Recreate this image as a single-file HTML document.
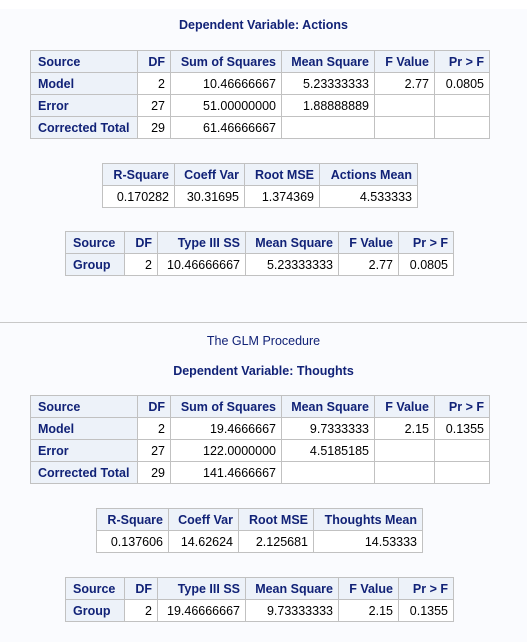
<!DOCTYPE html>
<html><head><meta charset="utf-8"><style>
body{margin:0;width:527px;height:642px;background:#fafbfe;font-family:"Liberation Sans",Arial,sans-serif;font-size:12px;position:relative;overflow:hidden}
.topw{position:absolute;left:0;top:0;width:527px;height:9px;background:#fff}
.sep{position:absolute;left:0;top:322px;width:527px;height:1px;background:#c8c8c8}
.t{position:absolute;left:0;width:527px;text-align:center;color:#112277;font-weight:bold;font-size:12.5px}
table{position:absolute;border-collapse:collapse;table-layout:fixed;background:#fff}
td,th{border:1px solid #c1c1c1;height:21px;padding:0 5px;white-space:nowrap;overflow:hidden;font-size:12.5px}
th{background:#edf2f9;color:#112277;font-weight:bold;text-align:left;padding-left:7px}
th.r{text-align:right;padding-left:3px}
td{text-align:right;color:#000}
</style></head><body>
<div class="topw"></div>
<div class="t" style="top:18px">Dependent Variable: Actions</div>

<table style="left:30px;top:50px;width:459px">
<colgroup><col style="width:107px"><col style="width:33px"><col style="width:111px"><col style="width:93px"><col style="width:60px"><col style="width:55px"></colgroup>
<tr><th>Source</th><th class="r">DF</th><th class="r">Sum of Squares</th><th class="r">Mean Square</th><th class="r">F Value</th><th class="r">Pr &gt; F</th></tr>
<tr><th>Model</th><td>2</td><td>10.46666667</td><td>5.23333333</td><td>2.77</td><td>0.0805</td></tr>
<tr><th>Error</th><td>27</td><td>51.00000000</td><td>1.88888889</td><td></td><td></td></tr>
<tr><th>Corrected Total</th><td>29</td><td>61.46666667</td><td></td><td></td><td></td></tr>
</table>

<table style="left:102px;top:163px;width:315px">
<colgroup><col style="width:72px"><col style="width:70px"><col style="width:75px"><col style="width:98px"></colgroup>
<tr><th class="r">R-Square</th><th class="r">Coeff Var</th><th class="r">Root MSE</th><th class="r">Actions Mean</th></tr>
<tr><td>0.170282</td><td>30.31695</td><td>1.374369</td><td>4.533333</td></tr>
</table>

<table style="left:65px;top:231px;width:388px">
<colgroup><col style="width:59px"><col style="width:33px"><col style="width:88px"><col style="width:93px"><col style="width:60px"><col style="width:55px"></colgroup>
<tr><th>Source</th><th class="r">DF</th><th class="r">Type III SS</th><th class="r">Mean Square</th><th class="r">F Value</th><th class="r">Pr &gt; F</th></tr>
<tr><th>Group</th><td>2</td><td>10.46666667</td><td>5.23333333</td><td>2.77</td><td>0.0805</td></tr>
</table>

<div class="sep"></div>
<div class="t" style="top:334px;font-weight:normal">The GLM Procedure</div>
<div class="t" style="top:364px">Dependent Variable: Thoughts</div>

<table style="left:30px;top:395px;width:459px">
<colgroup><col style="width:107px"><col style="width:33px"><col style="width:111px"><col style="width:93px"><col style="width:60px"><col style="width:55px"></colgroup>
<tr><th>Source</th><th class="r">DF</th><th class="r">Sum of Squares</th><th class="r">Mean Square</th><th class="r">F Value</th><th class="r">Pr &gt; F</th></tr>
<tr><th>Model</th><td>2</td><td>19.4666667</td><td>9.7333333</td><td>2.15</td><td>0.1355</td></tr>
<tr><th>Error</th><td>27</td><td>122.0000000</td><td>4.5185185</td><td></td><td></td></tr>
<tr><th>Corrected Total</th><td>29</td><td>141.4666667</td><td></td><td></td><td></td></tr>
</table>

<table style="left:96px;top:508px;width:326px">
<colgroup><col style="width:72px"><col style="width:70px"><col style="width:75px"><col style="width:109px"></colgroup>
<tr><th class="r">R-Square</th><th class="r">Coeff Var</th><th class="r">Root MSE</th><th class="r">Thoughts Mean</th></tr>
<tr><td>0.137606</td><td>14.62624</td><td>2.125681</td><td>14.53333</td></tr>
</table>

<table style="left:65px;top:577px;width:388px">
<colgroup><col style="width:59px"><col style="width:33px"><col style="width:88px"><col style="width:93px"><col style="width:60px"><col style="width:55px"></colgroup>
<tr><th>Source</th><th class="r">DF</th><th class="r">Type III SS</th><th class="r">Mean Square</th><th class="r">F Value</th><th class="r">Pr &gt; F</th></tr>
<tr><th>Group</th><td>2</td><td>19.46666667</td><td>9.73333333</td><td>2.15</td><td>0.1355</td></tr>
</table>
</body></html>
